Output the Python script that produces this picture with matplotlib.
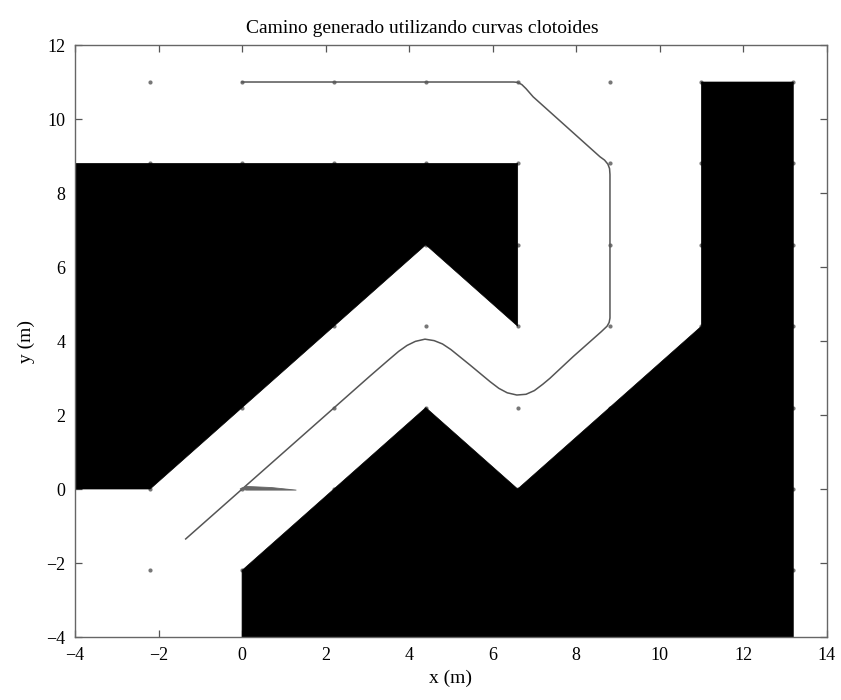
import numpy as np
import matplotlib
matplotlib.use("Agg")
import matplotlib.pyplot as plt
from matplotlib.patches import Polygon

plt.rcParams['font.family'] = ['Liberation Serif', 'DejaVu Serif']

# obstacle outlines (m)
obst1_x = [-4, 6.6, 6.6, 4.4, -2.2, -4]
obst1_y = [8.8, 8.8, 4.4, 6.6, 0, 0]
obst2_x = [0, 0, 4.4, 6.6, 11, 11, 13.2, 13.2]
obst2_y = [-4, -2.2, 2.2, 0, 4.4, 11, 11, -4]

# map nodes
grid_x = [-2.2, 0, 2.2, 4.4, 6.6, 8.8, 11, 13.2]
grid_y = [-2.2, 0, 2.2, 4.4, 6.6, 8.8, 11]

# clothoid path, sampled
path_x = [0, 6.5, 6.6, 6.7, 6.8, 6.97, 8.57, 8.68, 8.76, 8.8, 8.81,
          8.81, 8.79, 8.74, 8.6, 7.93, 7.37, 7.2, 7.0, 6.8, 6.58, 6.35,
          6.15, 5.94, 5.46, 5.0, 4.8, 4.6, 4.38, 4.15, 3.95, 3.75, 3.5,
          3.06, -1.35]
path_y = [11, 11, 10.99, 10.93, 10.82, 10.6, 8.98, 8.89, 8.78, 8.66, 8.5,
          4.62, 4.5, 4.4, 4.25, 3.58, 2.99, 2.83, 2.66, 2.56, 2.54, 2.6,
          2.72, 2.9, 3.35, 3.77, 3.92, 4.01, 4.05, 3.99, 3.88, 3.72, 3.48,
          3.05, -1.35]

# vehicle heading marker at origin
veh_x = [-0.05, 0.1, 0.7, 1.3, 0.7, 0.1]
veh_y = [0.0, 0.07, 0.04, -0.03, -0.03, -0.03]

fig = plt.figure(figsize=(8.41, 7), dpi=100)
ax = fig.add_axes([0.0892, 0.09, 0.8938, 0.8457])

gx, gy = np.meshgrid(grid_x, grid_y)
ax.plot(gx.ravel(), gy.ravel(), ls='none', marker='o', ms=3,
        color='#777777', mec='none', zorder=1)

for xs, ys in [(obst1_x, obst1_y), (obst2_x, obst2_y)]:
    ax.add_patch(Polygon(np.column_stack([xs, ys]), closed=True,
                         facecolor='black', edgecolor='black', lw=0.5, zorder=2))

ax.plot(path_x, path_y, color='#555555', lw=1.1, zorder=3,
        solid_joinstyle='round')
ax.add_patch(Polygon(np.column_stack([veh_x, veh_y]), closed=True,
                     facecolor='#666666', edgecolor='#666666', lw=0.6, zorder=3))

ax.set_xlim(-4, 14)
ax.set_ylim(-4, 12)
ax.set_xticks(np.arange(-4, 15, 2))
ax.set_yticks(np.arange(-4, 13, 2))
ax.tick_params(direction='in', top=True, right=True, length=5, width=0.9,
               color='#555555', labelsize=13, pad=7)
for s in ax.spines.values():
    s.set_color('#666666')
    s.set_linewidth(1.0)

ax.set_xlabel('x (m)', fontsize=14, labelpad=4)
ax.set_ylabel('y (m)', fontsize=14, labelpad=8)
ax.set_title('Camino generado utilizando curvas clotoides', fontsize=14,
             x=0.462, pad=9)

fig.savefig('out.png', dpi=100)
